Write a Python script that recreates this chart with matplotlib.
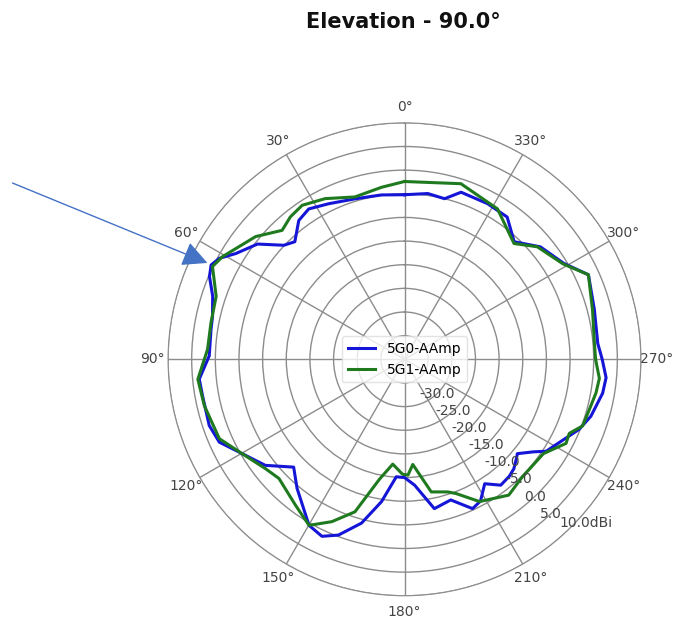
import numpy as np
import matplotlib
matplotlib.use("Agg")
import matplotlib.pyplot as plt
from matplotlib.patches import FancyArrowPatch

# ---- data (angle in degrees, gain in dBi) ----
ang_5g0 = [0, 8, 17, 26, 32.5, 37.3, 43, 46.6, 51.9, 57.9, 61.4, 64, 67, 71.8, 77.4, 81.2,
           89, 95.5, 100.2, 108.7, 114.1, 119.3, 127.3, 134.2, 140.2, 150.1, 155, 159.4,
           165.3, 170.8, 176, 180, 184.6, 191.3, 198.2, 204.5, 208.2, 212.8, 217.4, 221.9,
           225, 228.2, 230.1, 234.4, 237, 248.2, 253, 260.3, 264.8, 270, 274.7, 284.7,
           294.7, 301.1, 309.6, 317, 324.2, 331.9, 341.3, 346, 352]
val_5g0 = [-5.2, -4.9, -4.5, -3.4, -2.3, -3.1, -6.0, -4.9, -0.5, 2.1, 4.6, 5.5, 4.8, 2.7, 1.6, 1.4,
           1.3, 3.6, 3.4, 3.6, 2.9, 0.1, -3.0, -7.3, -4.5, 0.5, 1.3, -0.3,
           -4.2, -9.5, -15.1, -15.0, -13.3, -7.8, -8.7, -5.3, -6.0, -8.7, -6.5, -6.8,
           -7.3, -8.3, -8.9, -6.4, -4.3, -0.2, 1.2, 2.5, 2.8, 1.8, 1.0, 1.5,
           2.8, -0.7, -2.7, -6.0, -2.9, -2.7, -2.7, -5.0, -4.6]

ang_5g1 = [0, 7.6, 17, 26.3, 33.6, 38.7, 43.5, 50.5, 60.6, 64.2, 71.5, 79.3, 87.1, 95.5, 103,
           113.2, 120.2, 128.2, 133.5, 143.2, 150.1, 155.9, 162, 168.2, 173.6, 179, 181.7,
           184.5, 191.4, 198.1, 201, 207.8, 217.5, 225, 235.8, 242.5, 245.8, 249.5, 254.8,
           260, 264.4, 270, 274.7, 284.7, 294.7, 301.1, 310.3, 316.6, 328.3, 342.2]
val_5g1 = [-2.4, -3.3, -4.1, -2.1, -0.9, -1.4, -2.4, 0.8, 4.2, 5.1, 2.0, 1.65, 1.7, 3.9, 3.45,
           2.6, -0.3, -2.6, -3.4, -1.5, 0.5, -2.4, -6.1, -14.1, -17.7, -15.7, -15.5,
           -17.7, -11.4, -10.5, -9.6, -6.0, -3.8, -4.8, -4.5, -1.5, -1.8, 0.2, 0.5,
           1.1, 1.4, 0.4, 0.3, 1.1, 2.8, -0.9, -3.2, -6.3, -2.6, -1.0]

r_ticks = [-35, -30, -25, -20, -15, -10, -5, 0, 5, 10]
r_labels = ["", "-30.0", "-25.0", "-20.0", "-15.0", "-10.0", "-5.0", "0.0", "5.0", "10.0dBi"]
theta_ticks = list(range(0, 360, 30))
theta_labels = [f"{t}°" for t in theta_ticks]

fig = plt.figure(figsize=(6.79, 6.23), dpi=100)
ax = fig.add_axes([0.2475, 0.0435, 0.6965, 0.7595], projection="polar")
ax.set_theta_zero_location("N")
ax.set_theta_direction(1)


def closed(a, v):
    a = np.deg2rad(np.array(a + [a[0]], dtype=float))
    v = np.array(v + [v[0]], dtype=float)
    return a, v


a0, v0 = closed(ang_5g0, val_5g0)
a1, v1 = closed(ang_5g1, val_5g1)
ax.plot(a0, v0, color="#1515d8", lw=2.2, label="5G0-AAmp", zorder=3)
ax.plot(a1, v1, color="#1f7a1f", lw=2.2, label="5G1-AAmp", zorder=3)

ax.set_ylim(-40, 10)
ax.set_yticks(r_ticks)
ax.set_yticklabels([])
ax.set_xticks(np.deg2rad(theta_ticks))
ax.set_xticklabels(theta_labels, fontsize=10, color="#444444")
ax.tick_params(axis="x", pad=1)
ax.grid(True, color="#8c8c8c", lw=1.0)
ax.spines["polar"].set_color("#8c8c8c")

# radial labels, centred on their rings along ~223.5 deg
lab_ang = np.deg2rad(223.5)
for r, lab in zip(r_ticks, r_labels):
    if not lab:
        continue
    off = (13.5, 6) if r == r_ticks[-1] else (0, 0)
    ax.annotate(lab, xy=(lab_ang, r), xytext=off, textcoords="offset points",
                ha="center", va="center", fontsize=10, color="#444444", zorder=4)

leg = ax.legend(loc="center", fontsize=10, framealpha=0.8, edgecolor="#dddddd",
                handlelength=2.0)
leg.set_zorder(5)

fig.text(0.594, 0.964, "Elevation - 90.0°", ha="center", va="center",
         fontsize=15, fontweight="bold", color="#111111")

arrow = FancyArrowPatch((10 / 679, 1 - 182 / 623), (210 / 679, 1 - 264 / 623),
                        transform=fig.transFigure,
                        arrowstyle="-|>,head_length=1.1,head_width=0.55",
                        mutation_scale=14, color="#4472C4", lw=1.0)
fig.add_artist(arrow)

fig.savefig("out.png", dpi=100)
